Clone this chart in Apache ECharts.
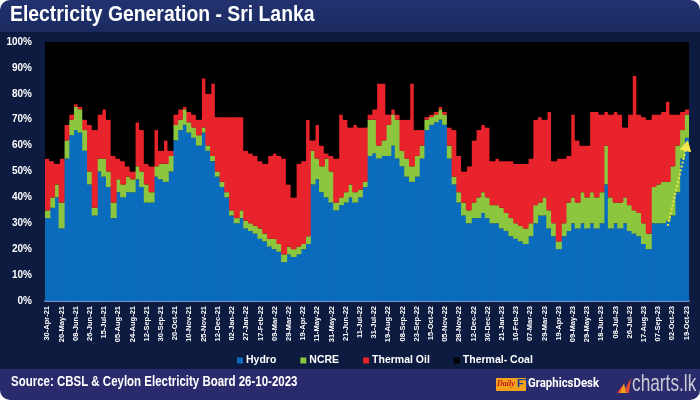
<!DOCTYPE html>
<html>
<head>
<meta charset="utf-8">
<script src="https://cdn.jsdelivr.net/npm/echarts@6/dist/echarts.min.js"></script>
<style>
html,body{margin:0;padding:0;background:#ffffff;}
#wrap{width:700px;height:400px;border-radius:10px;overflow:hidden;}
#chart{width:700px;height:400px;}
</style>
</head>
<body>
<div id="wrap"><div id="chart"></div></div>
<script>
const tickLabels = ["30-Apr-21","20-May-21","08-Jun-21","26-Jun-21","15-Jul-21","05-Aug-21","24-Aug-21","12-Sep-21","30-Sep-21","20-Oct-21",
"10-Nov-21","25-Nov-21","12-Dec-21","02-Jan-22","27-Jan-22","17-Feb-22","09-Mar-22","29-Mar-22","19-Apr-22","11-May-22",
"31-May-22","21-Jun-22","11-Jul-22","31-Jul-22","19-Aug-22","08-Sep-22","23-Sep-22","15-Oct-22","05-Nov-22","28-Nov-22",
"12-Dec-22","30-Dec-22","21-Jan-23","10-Feb-23","07-Mar-23","29-Mar-23","19-Apr-23","09-May-23","29-May-23","18-Jun-23",
"08-Jul-23","26-Jul-23","17-Aug-23","07-Sep-23","02-Oct-23","19-Oct-23"];

const hydro = [32,36,40,28,55,64,66,65,58,45, 33,50,48,44,32,42,40,42,42,47, 44,38,38,48,47,46,50,62,66,68,
65,63,60,65,58,54,48,44,40,33, 30,32,28,27,26,24,23,21,20,19, 15,18,17,18,20,22,45,47,42,40,
38,35,37,38,40,38,40,44,56,57, 55,56,56,60,55,52,48,46,48,55, 66,68,69,70,68,55,45,38,33,30,
32,32,34,32,30,30,28,27,25,24, 23,22,25,30,33,33,28,25,20,25, 27,30,28,30,28,30,28,30,45,28,
30,28,30,27,26,25,22,20,30,30, 30,31,33,42,55,63];

const ncre = [3,4,5,10,7,6,9,9,8,5, 3,5,7,6,6,5,5,6,5,5, 6,7,4,4,6,7,6,6,4,6,
4,4,4,2,2,2,2,2,2,2, 2,3,3,3,3,4,3,3,4,3, 3,3,3,3,2,3,13,8,10,15,
12,3,3,4,5,4,3,2,14,13, 5,6,12,12,15,6,7,6,8,5, 4,3,3,4,4,5,3,4,5,5,
6,8,8,8,7,7,8,7,7,6, 6,6,5,7,5,7,7,5,3,5, 11,10,10,12,12,12,12,12,15,12,
8,10,10,10,9,9,8,6,14,15, 16,15,19,18,11,9];

const thermalOil = [20,14,8,17,6,2,1,1,4,18, 30,17,19,20,18,8,9,4,3,17, 16,8,10,14,5,9,2,4,4,1,
4,5,6,19,20,28,21,25,29,36, 39,36,27,27,27,26,27,32,33,34, 37,24,20,32,32,45,4,13,8,2,
6,17,32,28,22,26,24,21,2,4, 24,22,4,2,2,12,15,32,10,6, 1,1,1,1,1,7,18,14,12,17,
24,26,26,27,17,18,18,20,22,23, 24,25,25,33,33,30,38,24,32,25, 18,32,24,18,20,31,33,30,13,32,
35,34,27,35,52,38,41,44,28,27, 27,31,20,12,7,2];

// coal is the remainder of the 100% share
const thermalCoal = hydro.map((h, i) => 100 - h - ncre[i] - thermalOil[i]);

const categories = hydro.map((_, i) => (i % 3 === 0 ? tickLabels[i / 3] : ''));

const FONT = "'Liberation Sans','Arial',sans-serif";

const chart = echarts.init(document.getElementById('chart'), null, {renderer: 'canvas'});

function barSeries(name, data, color) {
  return {
    name: name,
    type: 'bar',
    stack: 'gen',
    data: data,
    barWidth: 6,
    barCategoryGap: '0%',
    itemStyle: {color: color},
    emphasis: {disabled: true},
    animation: false
  };
}

const series = [
  barSeries('Hydro', hydro, '#0b6cbd'),
  barSeries('NCRE', ncre, '#8cc63e'),
  barSeries('Thermal Oil', thermalOil, '#e8232b'),
  barSeries('Thermal- Coal', thermalCoal, '#000000')
];
series[0].markLine = {
  silent: true,
  symbol: ['none', 'triangle'],
  symbolSize: [12, 11],
  label: {show: false},
  lineStyle: {color: '#f3e64a', type: 'dotted', width: 2},
  data: [[{coord: [131, 29]}, {coord: [135, 60]}]],
  animation: false
};

function sText(x, y, text, font, fill, sx) {
  return {type: 'text', x: x, y: y, scaleX: sx,
    style: {x: 0, y: 0, text: text, fill: fill, font: font, verticalAlign: 'top'}};
}

chart.setOption({
  backgroundColor: '#0d1b40',
  animation: false,
  grid: {left: 45, right: 11, top: 42, bottom: 99, show: true, backgroundColor: '#000000', borderWidth: 0},
  legend: {
    data: ['Hydro', 'NCRE', 'Thermal Oil', 'Thermal- Coal'],
    left: 232,
    top: 350,
    icon: 'rect',
    itemWidth: 6,
    itemHeight: 6,
    itemGap: 24,
    textStyle: {color: '#ffffff', fontFamily: "'Liberation Sans',sans-serif", fontWeight: 'bold', fontSize: 10.5, padding: [0, 0, 0, -2]}
  },
  xAxis: {
    type: 'category',
    data: categories,
    boundaryGap: true,
    axisLine: {show: true, lineStyle: {color: '#9fc3e8', width: 1.5}},
    axisTick: {show: false},
    axisLabel: {
      interval: 2,
      rotate: 90,
      color: '#ffffff',
      fontFamily: FONT,
      fontWeight: 'bold',
      fontSize: 7.5,
      margin: 5
    },
    splitLine: {show: false}
  },
  yAxis: {
    type: 'value',
    min: 0,
    max: 100,
    interval: 10,
    axisLine: {show: false},
    axisTick: {show: false},
    splitLine: {show: false},
    axisLabel: {
      formatter: '{value}%',
      color: '#ffffff',
      fontFamily: FONT,
      fontWeight: 'bold',
      fontSize: 10,
      margin: 13
    }
  },
  graphic: [
    {type: 'rect', left: 0, top: 0, shape: {width: 700, height: 32},
     style: {fill: new echarts.graphic.LinearGradient(0, 0, 0, 1, [{offset: 0, color: '#223270'}, {offset: 1, color: '#1a2a60'}])}, z: -1},
    sText(10, 4, 'Electricity Generation - Sri Lanka', "bold 22px " + FONT, '#ffffff', 0.88),
    {type: 'rect', left: 0, top: 369, shape: {width: 700, height: 31}, style: {fill: '#2a2b6c'}, z: -1},
    sText(11, 375, 'Source: CBSL & Ceylon Electricity Board 26-10-2023', "bold 14px " + FONT, '#ffffff', 0.82),
    {type: 'rect', left: 496, top: 378, shape: {width: 20, height: 13}, style: {fill: '#f4a21c'}},
    {type: 'text', left: 497, top: 380, style: {text: 'Daily', fill: '#c4161c', font: "italic bold 8px serif"}},
    {type: 'rect', left: 516, top: 378, shape: {width: 10, height: 13}, style: {fill: '#f4a21c'}},
    {type: 'text', left: 517, top: 378, style: {text: 'FT', fill: '#1b3f94', font: "bold 11px " + FONT}},
    sText(528, 378, 'GraphicsDesk', "bold 12px 'Roboto',sans-serif", '#ffffff', 0.95),
    {type: 'polygon', shape: {points: [[617, 393], [622, 386], [625, 389], [631, 378], [629, 393]]}, style: {fill: '#e2483a'}},
    {type: 'polygon', shape: {points: [[620, 393], [624, 383], [626, 393]]}, style: {fill: '#f4a21c'}},
    sText(632, 372, 'charts.lk', "24px " + FONT, '#c9cbd6', 0.72)
  ],
  series: series
});
</script>
</body>
</html>
